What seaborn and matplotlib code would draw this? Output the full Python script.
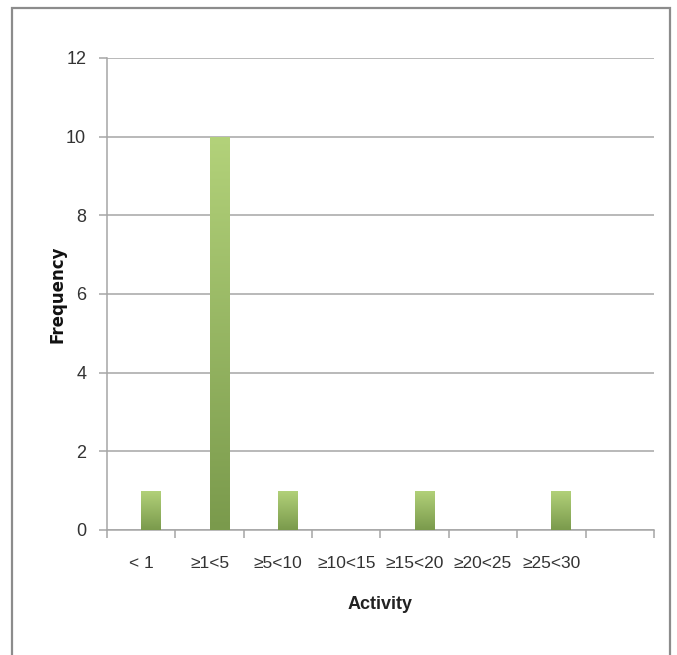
import matplotlib
matplotlib.use("Agg")
import matplotlib.pyplot as plt
from matplotlib.colors import LinearSegmentedColormap
from matplotlib.patches import Rectangle
import numpy as np
import pandas as pd
import seaborn as sns

# Frequency of activity classes
categories = ["< 1", "≥1<5", "≥5<10", "≥10<15", "≥15<20", "≥20<25", "≥25<30", ""]
frequency = [1, 10, 1, 0, 1, 0, 1, 0]
y_ticks = [0, 2, 4, 6, 8, 10, 12]

sns.set_theme(style="white")
plt.rcParams["font.family"] = ["Liberation Sans", "DejaVu Sans"]

df = pd.DataFrame({"Activity": categories, "Frequency": frequency})

fig = plt.figure(figsize=(6.77, 6.55), dpi=100)
fig.patch.set_facecolor("white")
ax = fig.add_axes([0.158, 0.191, 0.808, 0.7205])

sns.barplot(data=df, x="Activity", y="Frequency", order=categories,
            width=0.29, color="#9dbd62", ax=ax, zorder=3, linewidth=0)

# shift bars to the right half of each slot and fill with a vertical gradient
cmap = LinearSegmentedColormap.from_list("g", ["#7a9a4c", "#b3d27a"])
grad = np.linspace(0, 1, 256).reshape(-1, 1)
for p in ax.patches:
    p.set_x(p.get_x() + 0.145)
    h = p.get_height()
    if h <= 0:
        continue
    x0, w = p.get_x(), p.get_width()
    p.set_facecolor("none")
    im = ax.imshow(grad, extent=[x0, x0 + w, 0, h], origin="lower",
                   cmap=cmap, aspect="auto", zorder=3)
    im.set_clip_path(p)

ax.set_xlim(-0.5, len(categories) - 0.5)
ax.set_ylim(0, 12)
ax.set_yticks(y_ticks)
ax.set_yticklabels([str(v) for v in y_ticks])
ax.yaxis.grid(True, color="#a6a6a6", linewidth=1.1, zorder=0)
ax.set_axisbelow(True)

for s in ["top", "right"]:
    ax.spines[s].set_visible(False)
ax.spines["left"].set_color("#a6a6a6")
ax.spines["bottom"].set_color("#a6a6a6")
ax.spines["left"].set_linewidth(1.1)
ax.spines["bottom"].set_linewidth(1.1)

# category boundary ticks on the x axis
ax.set_xticks(np.arange(len(categories)))
ax.set_xticklabels(categories, fontsize=12.5, color="#333333")
ax.set_xticks(np.arange(len(categories) + 1) - 0.5, minor=True)
ax.tick_params(axis="x", which="major", length=0, pad=19)
ax.tick_params(axis="x", which="minor", length=6, color="#a6a6a6", width=1.1, direction="out", bottom=True)
ax.tick_params(axis="y", length=6, color="#a6a6a6", width=1.1, direction="out", left=True,
               labelsize=13, labelcolor="#333333", pad=9)

ax.set_xlabel("Activity", fontsize=13, fontweight="bold", color="#222222", labelpad=18)
ax.set_ylabel("Frequency", fontsize=12, fontweight="bold", color="#111111", labelpad=0,
              family="DejaVu Sans")

# chart area frame
fig.patches.append(Rectangle((12 / 677, -0.01), 658 / 677, 1 - 8 / 655 + 0.01,
                             transform=fig.transFigure, fill=False,
                             edgecolor="#8c8c8c", linewidth=1.6))

fig.savefig("out.png", dpi=100, facecolor="white")
